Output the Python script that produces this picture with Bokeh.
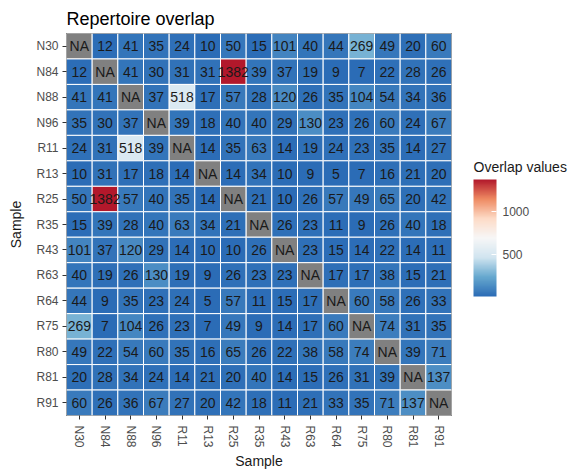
import numpy as np
from bokeh.plotting import figure
from bokeh.models import ColumnDataSource, LinearColorMapper, ColorBar, FixedTicker
from bokeh.core.properties import value
from bokeh.embed import file_html
from bokeh.resources import INLINE

samples = ["N30", "N84", "N88", "N96", "R11", "R13", "R25", "R35",
           "R43", "R63", "R64", "R75", "R80", "R81", "R91"]

row_N30 = [None, 12, 41, 35, 24, 10, 50, 15, 101, 40, 44, 269, 49, 20, 60]
row_N84 = [12, None, 41, 30, 31, 31, 1382, 39, 37, 19, 9, 7, 22, 28, 26]
row_N88 = [41, 41, None, 37, 518, 17, 57, 28, 120, 26, 35, 104, 54, 34, 36]
row_N96 = [35, 30, 37, None, 39, 18, 40, 40, 29, 130, 23, 26, 60, 24, 67]
row_R11 = [24, 31, 518, 39, None, 14, 35, 63, 14, 19, 24, 23, 35, 14, 27]
row_R13 = [10, 31, 17, 18, 14, None, 14, 34, 10, 9, 5, 7, 16, 21, 20]
row_R25 = [50, 1382, 57, 40, 35, 14, None, 21, 10, 26, 57, 49, 65, 20, 42]
row_R35 = [15, 39, 28, 40, 63, 34, 21, None, 26, 23, 11, 9, 26, 40, 18]
row_R43 = [101, 37, 120, 29, 14, 10, 10, 26, None, 23, 15, 14, 22, 14, 11]
row_R63 = [40, 19, 26, 130, 19, 9, 26, 23, 23, None, 17, 17, 38, 15, 21]
row_R64 = [44, 9, 35, 23, 24, 5, 57, 11, 15, 17, None, 60, 58, 26, 33]
row_R75 = [269, 7, 104, 26, 23, 7, 49, 9, 14, 17, 60, None, 74, 31, 35]
row_R80 = [49, 22, 54, 60, 35, 16, 65, 26, 22, 38, 58, 74, None, 39, 71]
row_R81 = [20, 28, 34, 24, 14, 21, 20, 40, 14, 15, 26, 31, 39, None, 137]
row_R91 = [60, 26, 36, 67, 27, 20, 42, 18, 11, 21, 33, 35, 71, 137, None]

rows = [row_N30, row_N84, row_N88, row_N96, row_R11, row_R13, row_R25, row_R35,
        row_R43, row_R63, row_R64, row_R75, row_R80, row_R81, row_R91]

legend_ticks = [500, 1000]

# RdBu (reversed: low = blue)
base = ["#2B6CB6", "#67A9CF", "#D1E5F0", "#F7F7F7", "#FDDBC7", "#EF8A62", "#B2182B"]
def hex2rgb(h):
    return np.array([int(h[i:i + 2], 16) for i in (1, 3, 5)], dtype=float)
stops = np.array([hex2rgb(c) for c in base])
pos = np.linspace(0, 1, len(base))
palette = []
for t in np.linspace(0, 1, 256):
    rgb = [np.interp(t, pos, stops[:, k]) for k in range(3)]
    palette.append("#%02x%02x%02x" % tuple(int(round(c)) for c in rgb))

xs, ys, vals, labels = [], [], [], []
for rname, row in zip(samples, rows):
    for cname, v in zip(samples, row):
        xs.append(cname)
        ys.append(rname)
        vals.append(np.nan if v is None else float(v))
        labels.append("NA" if v is None else str(v))

src = ColumnDataSource(dict(x=xs, y=ys, v=np.array(vals), label=labels))

all_vals = [v for v in vals if not np.isnan(v)]
mapper = LinearColorMapper(palette=palette, low=min(all_vals), high=max(all_vals),
                           nan_color="#808080")

p = figure(width=572, height=471, x_range=samples, y_range=list(reversed(samples)),
           output_backend="svg", toolbar_location=None,
           min_border_left=66, min_border_right=121, min_border_top=33, min_border_bottom=51,
           title="Repertoire overlap")

p.rect(x="x", y="y", width=1, height=1, source=src,
       fill_color={"field": "v", "transform": mapper},
       line_color="white", line_width=1)
p.text(x="x", y="y", text="label", source=src, text_align="center",
       text_baseline="middle", text_font=value("Liberation Sans"),
       text_font_size="14px", text_color="#1a1a1a")

p.title.text_font = "Liberation Sans"
p.title.text_font_size = "18px"
p.title.text_font_style = "normal"
p.title.text_color = "#000000"
p.title.align = "left"

p.outline_line_color = "#333333"
p.outline_line_width = 1
p.grid.grid_line_color = None
p.background_fill_color = "#EBEBEB"

for ax in (p.xaxis, p.yaxis):
    ax.axis_line_color = None
    ax.major_tick_line_color = "#333333"
    ax.major_tick_out = 4
    ax.major_tick_in = 0
    ax.major_label_text_font = "Liberation Sans"
    ax.major_label_text_font_size = "12px"
    ax.major_label_text_color = "#4D4D4D"
    ax.axis_label = "Sample"
    ax.axis_label_text_font = "Liberation Sans"
    ax.axis_label_text_font_size = "14px"
    ax.axis_label_text_font_style = "normal"
    ax.axis_label_text_color = "#1a1a1a"
    ax.major_label_standoff = 4
p.xaxis.major_label_orientation = "vertical"
p.xaxis.major_label_standoff = 6
p.xaxis.axis_label_standoff = 2
p.yaxis.axis_label_standoff = 9

cb = ColorBar(color_mapper=mapper, ticker=FixedTicker(ticks=legend_ticks),
              width=23, height=117,
              major_label_text_font="Liberation Sans", major_label_text_font_size="12px",
              major_label_text_color="#4D4D4D",
              major_tick_line_color="white", major_tick_in=5, major_tick_out=0,
              label_standoff=6, bar_line_color=None, border_line_color=None,
              background_fill_color=None, padding=0, margin=0,
              location=(407, 119))
p.add_layout(cb, "center")

# horizontal (invisible) colour bar used only to carry the legend title
cb_title = ColorBar(color_mapper=mapper, ticker=FixedTicker(ticks=[]),
                    orientation="horizontal", width=100, height=1,
                    title="Overlap values", title_text_font="Liberation Sans",
                    title_text_font_size="14px", title_text_font_style="normal",
                    title_text_color="#1a1a1a", title_standoff=3,
                    scale_alpha=0, bar_line_color=None, border_line_color=None,
                    major_tick_line_color=None, minor_tick_line_color=None,
                    major_label_text_font_size="1px", major_label_text_alpha=0,
                    label_standoff=0, background_fill_color=None,
                    padding=0, margin=0, location=(407, 238))
p.add_layout(cb_title, "center")

open("out.html", "w").write(file_html(p, INLINE))
